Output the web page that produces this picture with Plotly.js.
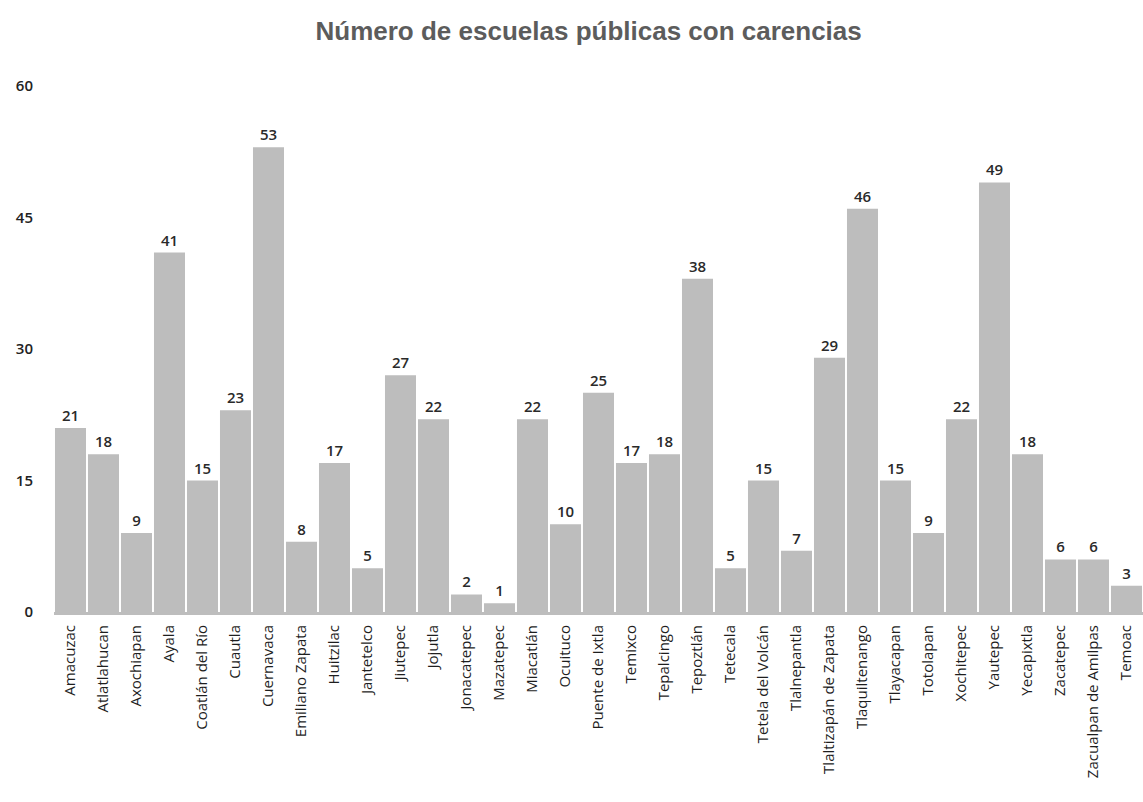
<!DOCTYPE html>
<html><head><meta charset="utf-8">
<script src="https://cdn.plot.ly/plotly-3.0.1.min.js"></script>
<style>html,body{margin:0;padding:0;background:#fff}#chart{width:1143px;height:802px}</style>
</head><body><div id="chart"></div>
<script>
const municipios = ["Amacuzac","Atlatlahucan","Axochiapan","Ayala","Coatlán del Río","Cuautla","Cuernavaca","Emiliano Zapata","Huitzilac","Jantetelco","Jiutepec","Jojutla","Jonacatepec","Mazatepec","Miacatlán","Ocuituco","Puente de Ixtla","Temixco","Tepalcingo","Tepoztlán","Tetecala","Tetela del Volcán","Tlalnepantla","Tlaltizapán de Zapata","Tlaquiltenango","Tlayacapan","Totolapan","Xochitepec","Yautepec","Yecapixtla","Zacatepec","Zacualpan de Amilpas","Temoac"];
const escuelas = [21,18,9,41,15,23,53,8,17,5,27,22,2,1,22,10,25,17,18,38,5,15,7,29,46,15,9,22,49,18,6,6,3];
const yTicks = [0,15,30,45,60];

const trace = {
  type: 'bar', x: municipios, y: escuelas,
  marker: {color: '#bdbdbd'},
  text: escuelas.map(String), textposition: 'outside', cliponaxis: false,
  textfont: {family: 'Open Sans, sans-serif', size: 15, weight: 600, color: '#2a2a2a'},
  hoverinfo: 'x+y'
};
const layout = {
  width: 1143, height: 802,
  margin: {l: 54, r: 0, t: 86, b: 190},
  paper_bgcolor: '#fff', plot_bgcolor: '#fff',
  bargap: 0.06,
  showlegend: false,
  title: {text: '<b>Número de escuelas públicas con carencias</b>', x: 0.515, xanchor: 'center', y: 0.962, yanchor: 'middle',
          font: {family: 'Liberation Sans, Arial, sans-serif', size: 26, color: '#5c5c5c'}},
  xaxis: {type: 'category', tickangle: -90, showline: true, linecolor: '#bdbdbd', linewidth: 3,
          ticks: '', showgrid: false, ticklabelstandoff: 4,
          tickfont: {family: 'Open Sans, sans-serif', size: 15, color: '#1e1e1e'}},
  yaxis: {range: [0, 60], tickvals: yTicks, ticktext: yTicks.map(String), showgrid: false, zeroline: false,
          showline: false, ticks: '', ticklabelstandoff: 20,
          tickfont: {family: 'Open Sans, sans-serif', size: 15, weight: 600, color: '#222'}}
};
Plotly.newPlot('chart', [trace], layout, {displayModeBar: false, staticPlot: true});
</script></body></html>
